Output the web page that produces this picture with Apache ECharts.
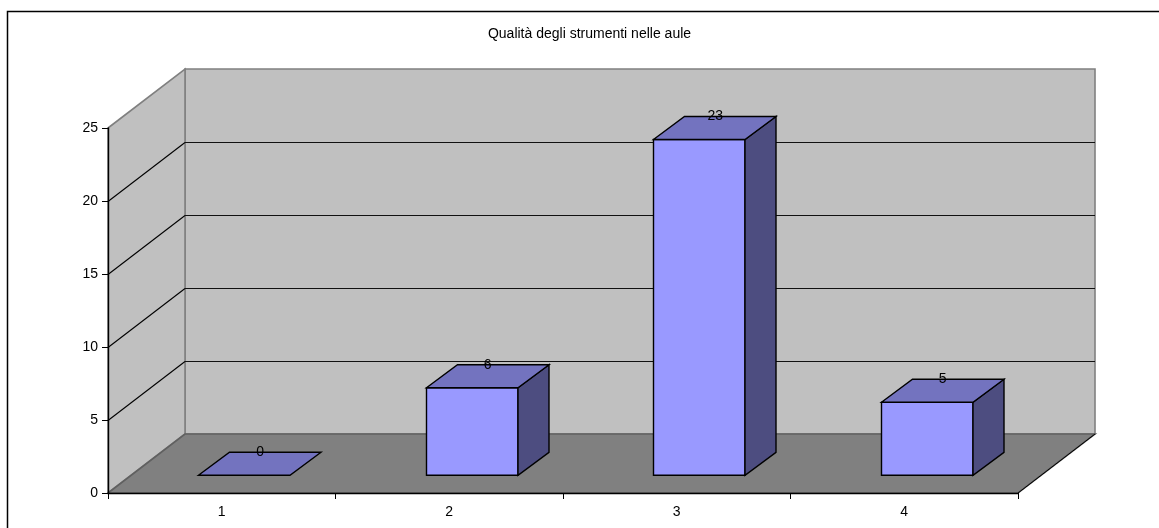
<!DOCTYPE html>
<html>
<head>
<meta charset="utf-8">
<style>html,body{margin:0;padding:0;background:#fff}#c{width:1159px;height:528px}</style>
<script src="https://cdn.jsdelivr.net/npm/echarts@6/dist/echarts.min.js"></script>
</head>
<body>
<div id="c"></div>
<script>
const titleText = 'Qualità degli strumenti nelle aule';
const categories = ['1', '2', '3', '4'];
const values = [0, 6, 23, 5];
const yTicks = [0, 5, 10, 15, 20, 25];

const FAMILY = '"Liberation Sans", Arial, sans-serif';
const FONT = '14px ' + FAMILY;
const WALL_DX = 77, WALL_DY = -59;
const BAR_OFF_DX = 23, BAR_OFF_DY = -17.7;
const BAR_DX = 31, BAR_DY = -23;
const BAR_W = 91.5;

function poly(points, fill, stroke, lw, z2) {
  return { type: 'polygon', z2: z2 || 0, shape: { points: points },
    style: { fill: fill, stroke: stroke, lineWidth: lw === undefined ? 1 : lw, lineJoin: 'miter' } };
}
function line(a, b, stroke, lw, z2) {
  return { type: 'line', z2: z2 || 0, shape: { x1: a[0], y1: a[1], x2: b[0], y2: b[1] },
    style: { stroke: stroke, lineWidth: lw || 1 } };
}

function renderWalls(params, api) {
  const cs = params.coordSys;
  const xL = cs.x, xR = cs.x + cs.width;
  const y0 = api.coord([0, yTicks[0]])[1];
  const yT = api.coord([0, yTicks[yTicks.length - 1]])[1];
  const kids = [];
  // back wall
  kids.push(poly([[xL + WALL_DX, yT + WALL_DY], [xR + WALL_DX, yT + WALL_DY], [xR + WALL_DX, y0 + WALL_DY], [xL + WALL_DX, y0 + WALL_DY]], '#c0c0c0', '#808080', 1.6));
  // side wall
  kids.push(poly([[xL, yT], [xL + WALL_DX, yT + WALL_DY], [xL + WALL_DX, y0 + WALL_DY], [xL, y0]], '#c0c0c0', '#808080', 1.6));
  // floor
  kids.push(poly([[xL, y0], [xR, y0], [xR + WALL_DX, y0 + WALL_DY], [xL + WALL_DX, y0 + WALL_DY]], '#808080', '#606060', 1.6));
  // floor front-right edge
  kids.push(line([xR, y0], [xR + WALL_DX, y0 + WALL_DY], '#000', 1, 2));
  // gridlines
  yTicks.slice(1, -1).forEach(function (t) {
    const y = api.coord([0, t])[1] + 0.5;
    kids.push(line([xL, y], [xL + WALL_DX, y + WALL_DY], '#000', 1.1, 1));
    kids.push(line([xL + WALL_DX, y + WALL_DY], [xR + WALL_DX, y + WALL_DY], '#111', 1.2, 1));
  });
  return { type: 'group', children: kids };
}

function renderBar(params, api) {
  const idx = api.value(0), val = api.value(1);
  const top = api.coord([idx, val]);
  const base = api.coord([idx, 0]);
  const l = Math.round(top[0] + BAR_OFF_DX - BAR_W / 2) - 0.5, r = l + BAR_W;
  const t = top[1] + BAR_OFF_DY, b = base[1] + BAR_OFF_DY;
  const kids = [];
  if (val > 0) {
    kids.push(poly([[l, t], [r, t], [r, b], [l, b]], '#9999ff', '#000', 1.4));
    kids.push(poly([[r, t], [r + BAR_DX, t + BAR_DY], [r + BAR_DX, b + BAR_DY], [r, b]], '#4d4d80', '#000', 1.4));
  }
  kids.push(poly([[l, t], [r, t], [r + BAR_DX, t + BAR_DY], [l + BAR_DX, t + BAR_DY]], '#7373bf', '#000', 1.4));
  kids.push({ type: 'text', z2: 5, style: {
    x: top[0] + BAR_OFF_DX + BAR_DX / 2, y: t + BAR_DY, text: String(val),
    align: 'center', verticalAlign: 'middle', font: FONT, fill: '#000' } });
  return { type: 'group', children: kids };
}

const chart = echarts.init(document.getElementById('c'), null, { renderer: 'canvas' });
chart.setOption({
  animation: false,
  backgroundColor: '#fff',
  title: { text: titleText, left: 584.5, top: 22, textAlign: 'center',
    textStyle: { fontFamily: FAMILY, fontSize: 14, fontWeight: 'normal', color: '#000' } },
  graphic: [{ type: 'rect', z: -1, shape: { x: 7.5, y: 11.5, width: 1300, height: 700 },
    style: { fill: 'none', stroke: '#000', lineWidth: 1.5 } }],
  grid: { left: 108, top: 128, width: 910, height: 365, containLabel: false },
  xAxis: { type: 'category', data: categories, z: 6,
    axisLine: { lineStyle: { color: '#000', width: 1.4 } },
    axisTick: { show: true, alignWithLabel: false, length: 6, lineStyle: { color: '#000' } },
    axisLabel: { color: '#000', fontFamily: FAMILY, fontSize: 14, margin: 12 },
    splitLine: { show: false } },
  yAxis: { type: 'value', min: 0, max: 25, interval: 5, z: 6,
    axisLine: { show: true, lineStyle: { color: '#000', width: 1.4 } },
    axisTick: { show: true, length: 6, lineStyle: { color: '#000' } },
    axisLabel: { color: '#000', fontFamily: FAMILY, fontSize: 14, margin: 10 },
    splitLine: { show: false } },
  series: [
    { type: 'custom', name: 'walls', z: 1, silent: true, renderItem: renderWalls, data: [[0, 0]] },
    { type: 'custom', name: 'Qualità', z: 3, renderItem: renderBar,
      encode: { x: 0, y: 1 }, data: values.map(function (v, i) { return [i, v]; }) }
  ]
});
</script>
</body>
</html>
